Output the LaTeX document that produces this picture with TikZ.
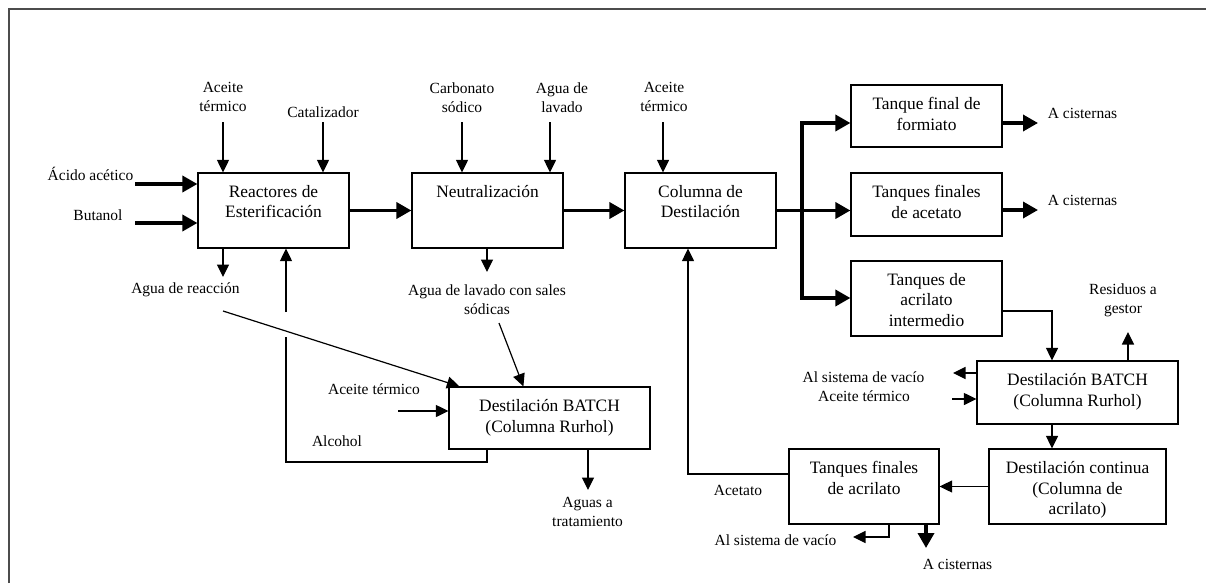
\documentclass[tikz,border=0pt]{standalone}
\usepackage{fontspec}
\setmainfont{Liberation Serif}
\usetikzlibrary{arrows.meta}
\begin{document}
\begin{tikzpicture}[x=1pt,y=-1pt,
  box/.style={draw, line width=1.2pt, inner sep=0pt},
  boxtext/.style={anchor=north, inner sep=0pt, align=center, font=\fontsize{17.4}{20.7}\selectfont},
  lbl/.style={anchor=north, inner sep=0pt, align=center, font=\fontsize{15.5}{18.6}\selectfont},
  plain/.style={line width=1.2pt},
  flow/.style={line width=1.2pt, -{Triangle[length=12.5pt,width=12pt]}},
  mainflow/.style={line width=3.5pt, -{Triangle[length=15pt,width=16pt]}},
  mainsplit/.style={line width=3.5pt, {Triangle[length=15pt,width=16pt]}-{Triangle[length=15pt,width=16pt]}},
  frame/.style={line width=1.5pt, black!70}]
\useasboundingbox (0,0) rectangle (1206,583);

% page frame
\draw[frame] (9,583) -- (9,9) -- (1206,9);

% process units
\node[box, minimum width=151pt, minimum height=75pt] (R)  at (273.5,210.5) {};
\node[box, minimum width=151pt, minimum height=75pt] (N)  at (487.5,210.5) {};
\node[box, minimum width=151pt, minimum height=75pt] (C)  at (700.5,210.5) {};
\node[box, minimum width=151pt, minimum height=62pt] (F)  at (926.5,116) {};
\node[box, minimum width=151pt, minimum height=63pt] (A)  at (926.5,204.5) {};
\node[box, minimum width=151pt, minimum height=75pt] (I)  at (926.5,298.5) {};
\node[box, minimum width=201pt, minimum height=63pt] (B2) at (1077.5,392.5) {};
\node[box, minimum width=177pt, minimum height=75pt] (DC) at (1077.5,486.5) {};
\node[box, minimum width=150pt, minimum height=75pt] (TA) at (864,486.5) {};
\node[box, minimum width=201pt, minimum height=62pt] (B1) at (549.5,418) {};

% unit captions
\node[boxtext] (Rt)  at (273.5,185) {Reactores de\\Esterificación};
\node[boxtext] (Nt)  at (487.5,185) {Neutralización};
\node[boxtext] (Ct)  at (700.5,185) {Columna de\\Destilación};
\node[boxtext] (Ft)  at (926.5,97)  {Tanque final de\\formiato};
\node[boxtext] (At)  at (926.5,185) {Tanques finales\\de acetato};
\node[boxtext] (It)  at (926.5,273) {Tanques de\\acrilato\\intermedio};
\node[boxtext] (B2t) at (1077.5,373) {Destilación BATCH\\(Columna Rurhol)};
\node[boxtext] (DCt) at (1077.5,461) {Destilación continua\\(Columna de\\acrilato)};
\node[boxtext] (TAt) at (864,461)   {Tanques finales\\de acrilato};
\node[boxtext] (B1t) at (549.5,399) {Destilación BATCH\\(Columna Rurhol)};

% stream labels
\node[lbl] (lAcido) at (90.5,167)   {Ácido acético};
\node[lbl] (lBut)   at (98,209.5)   {Butanol};
\node[lbl] (lAT1)   at (223,82.5)   {Aceite\\térmico};
\node[lbl] (lCat)   at (323,106.5)  {Catalizador};
\node[lbl] (lCarb)  at (462,82.5)   {Carbonato\\sódico};
\node[lbl] (lAL)    at (562,82.5)   {Agua de\\lavado};
\node[lbl] (lATC)   at (664,82.5)   {Aceite\\térmico};
\node[lbl] (lAR)    at (185.5,282.5) {Agua de reacción};
\node[lbl] (lALS)   at (487,284.5)  {Agua de lavado con sales\\sódicas};
\node[lbl] (lAT2)   at (374,383.5)  {Aceite térmico};
\node[lbl] (lAlc)   at (337,435.5)  {Alcohol};
\node[lbl] (lAguas) at (587.5,497.5) {Aguas a\\tratamiento};
\node[lbl] (lCis1)  at (1082.5,108.5) {A cisternas};
\node[lbl] (lCis2)  at (1082.5,195)  {A cisternas};
\node[lbl] (lRes)   at (1123,283.5) {Residuos a\\gestor};
\node[lbl] (lVac1)  at (863.5,371.5) {Al sistema de vacío};
\node[lbl] (lAT3)   at (864,390.5)  {Aceite térmico};
\node[lbl] (lAcet)  at (738,485.5)  {Acetato};
\node[lbl] (lVac2)  at (775.5,534.5) {Al sistema de vacío};
\node[lbl] (lCis3)  at (957.5,559.5) {A cisternas};

% free ends of streams
\coordinate (inAc)  at (135,184);
\coordinate (inBu)  at (135,223);
\coordinate (tF)    at (802,123);
\coordinate (tI)    at (802,298);
\coordinate (oF)    at (1038,123);
\coordinate (oA)    at (1038,210);
\coordinate (oTA)   at (926,548);
\coordinate (iR1)   at (223,122);
\coordinate (iR2)   at (323,122);
\coordinate (iN1)   at (462,122);
\coordinate (iN2)   at (550,122);
\coordinate (iC)    at (663,122);
\coordinate (oR)    at (223,277);
\coordinate (oN)    at (487,272);
\coordinate (d1)    at (223,311);
\coordinate (d2)    at (499,323);
\coordinate (iB1)   at (398,411);
\coordinate (al1)   at (487,462);
\coordinate (al2)   at (286,462);
\coordinate (gapLo) at (286,337);
\coordinate (gapHi) at (286,312);
\coordinate (oB1)   at (588,490);
\coordinate (iB2)   at (1052,311);
\coordinate (oRes)  at (1128,332);
\coordinate (oVac1) at (953,373);
\coordinate (iB2b)  at (952,399);
\coordinate (rc)    at (688,474);
\coordinate (v2a)   at (889,537);
\coordinate (v2b)   at (853,537);

% main product line
\draw[mainflow] (inAc) -- (inAc -| R.west);
\draw[mainflow] (inBu) -- (inBu -| R.west);
\draw[mainflow] (R.east) -- (N.west);
\draw[mainflow] (N.east) -- (C.west);
\draw[mainflow] (C.east) -- (C.east -| A.west);
\draw[mainsplit] (tF -| F.west) -- (tF) -- (tI) -- (tI -| I.west);
\draw[mainflow] (oF -| F.east) -- (oF);
\draw[mainflow] (oA -| A.east) -- (oA);
\draw[mainflow] (oTA |- TA.south) -- (oTA);

% feeds and side streams
\draw[flow] (iR1) -- (iR1 |- R.north);
\draw[flow] (iR2) -- (iR2 |- R.north);
\draw[flow] (iN1) -- (iN1 |- N.north);
\draw[flow] (iN2) -- (iN2 |- N.north);
\draw[flow] (iC) -- (iC |- C.north);
\draw[flow] (oR |- R.south) -- (oR);
\draw[flow] (oN |- N.south) -- (oN);
\draw[flow] (d1) -- ([xshift=11pt]B1.north west);
\draw[flow] (d2) -- ([xshift=75pt]B1.north west);
\draw[flow] (iB1) -- (iB1 -| B1.west);
\draw[plain] (al1 |- B1.south) -- (al1) -- (al2) -- (gapLo);
\draw[flow] (gapHi) -- (gapHi |- R.south);
\draw[flow] (oB1 |- B1.south) -- (oB1);

% acrylate section
\draw[flow] (iB2 -| I.east) -- (iB2) -- (iB2 |- B2.north);
\draw[flow] (oRes |- B2.north) -- (oRes);
\draw[flow] (oVac1 -| B2.west) -- (oVac1);
\draw[flow] (iB2b) -- (iB2b -| B2.west);
\draw[flow] (iB2 |- B2.south) -- (iB2 |- DC.north);
\draw[flow] (DC.west) -- (TA.east);
\draw[flow] (rc -| TA.west) -- (rc) -- (rc |- C.south);
\draw[flow] (v2a |- TA.south) -- (v2a) -- (v2b);
\end{tikzpicture}
\end{document}
